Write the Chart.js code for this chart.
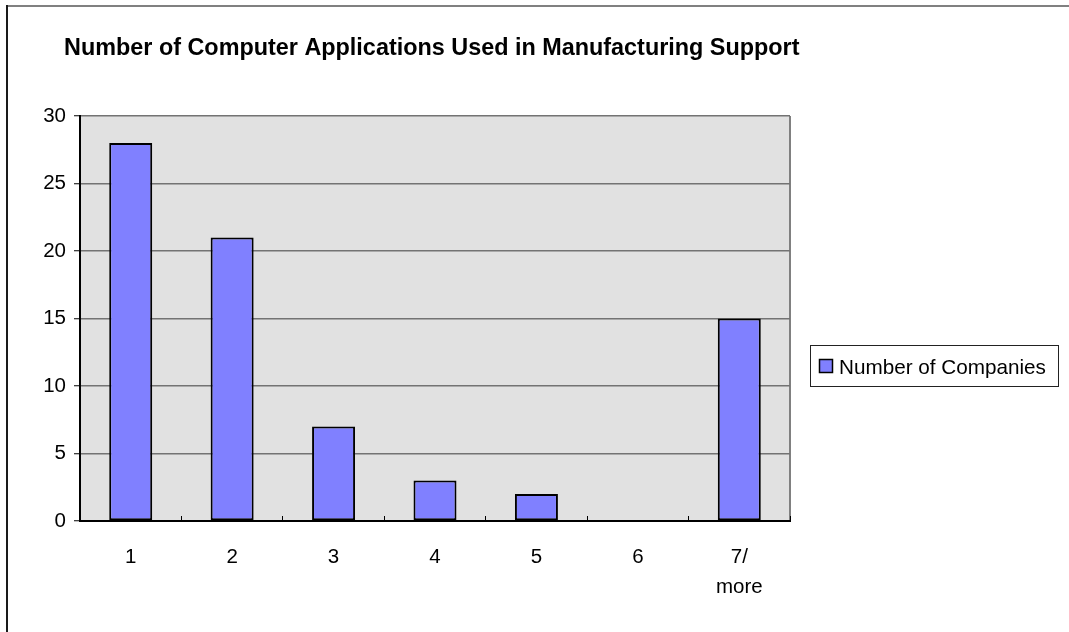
<!DOCTYPE html>
<html>
<head>
<meta charset="utf-8">
<script src="https://cdn.jsdelivr.net/npm/chart.js@4/dist/chart.umd.min.js"></script>
<style>
  html, body { margin: 0; padding: 0; background: #fff; }
  #wrap { position: relative; width: 1069px; height: 632px; }
  canvas { display: block; }
</style>
</head>
<body>
<div id="wrap"><canvas id="chart" width="1069" height="632"></canvas></div>
<script>
const chartTitle = 'Number of Computer Applications Used in Manufacturing Support';
const categories = ['1', '2', '3', '4', '5', '6', ['7/', 'more']];
const seriesLabel = 'Number of Companies';
const companyCounts = [28, 21, 7, 3, 2, 0, 15];

const FONT = "'Liberation Sans', Arial, sans-serif";
const BAR_FILL = '#8080ff';
const PLOT_FILL = '#e1e1e1';

// Frame, plot background, title and legend box
const decorations = {
  id: 'decorations',
  beforeDraw(chart) {
    const { ctx, chartArea: a } = chart;
    ctx.save();
    // outer frame (top and left edges)
    ctx.lineWidth = 2;
    ctx.strokeStyle = '#808080';
    ctx.beginPath(); ctx.moveTo(6, 6); ctx.lineTo(1069, 6); ctx.stroke();
    ctx.strokeStyle = '#1a1a1a';
    ctx.beginPath(); ctx.moveTo(7, 5); ctx.lineTo(7, 632); ctx.stroke();
    // plot background
    ctx.fillStyle = PLOT_FILL;
    ctx.fillRect(a.left, a.top, a.right - a.left, a.bottom - a.top);
    ctx.strokeStyle = '#808080';
    ctx.lineWidth = 2;
    ctx.beginPath(); ctx.moveTo(a.right, a.top); ctx.lineTo(a.right, a.bottom); ctx.stroke();
    ctx.restore();
  },
  afterDraw(chart) {
    const { ctx } = chart;
    ctx.save();
    // title
    ctx.fillStyle = '#000';
    ctx.font = 'bold 23.4px ' + FONT;
    ctx.textAlign = 'left';
    ctx.textBaseline = 'alphabetic';
    ctx.fillText(chartTitle, 64, 54.5);
    // legend
    const ds = chart.data.datasets[0];
    ctx.lineWidth = 1;
    ctx.strokeStyle = '#222';
    ctx.fillStyle = '#fff';
    ctx.fillRect(810.5, 345.5, 248, 41);
    ctx.strokeRect(810.5, 345.5, 248, 41);
    ctx.fillStyle = ds.backgroundColor;
    ctx.fillRect(819, 359, 14, 14);
    ctx.lineWidth = 1.5;
    ctx.strokeStyle = '#000';
    ctx.strokeRect(819.5, 359.5, 13, 13);
    ctx.fillStyle = '#000';
    ctx.font = '20.7px ' + FONT;
    ctx.fillText(ds.label, 839, 374);
    ctx.restore();
  }
};

new Chart(document.getElementById('chart'), {
  type: 'bar',
  data: {
    labels: categories,
    datasets: [{
      label: seriesLabel,
      data: companyCounts,
      backgroundColor: BAR_FILL,
      borderColor: '#000',
      borderWidth: 2,
      borderSkipped: false,
      barPercentage: 0.424,
      categoryPercentage: 1
    }]
  },
  options: {
    responsive: false,
    animation: false,
    devicePixelRatio: 1,
    layout: { padding: { left: 0, top: 116, right: 279, bottom: 0 } },
    plugins: {
      legend: { display: false },
      title: { display: false },
      tooltip: { enabled: false }
    },
    scales: {
      x: {
        offset: true,
        afterFit(scale) { scale.height = 111; },
        grid: {
          offset: true,
          drawOnChartArea: false,
          drawTicks: true,
          tickLength: -5,
          tickColor: '#000',
          tickWidth: 1
        },
        border: { display: true, color: '#000', width: 2 },
        ticks: {
          color: '#000',
          padding: 26,
          maxRotation: 0,
          autoSkip: false,
          font: { family: FONT, size: 20.5, lineHeight: 1.46 }
        }
      },
      y: {
        min: 0,
        max: 30,
        afterFit(scale) { scale.width = 80; },
        grid: {
          color: '#737373',
          lineWidth: 1.5,
          drawTicks: true,
          tickLength: 6,
          tickColor: '#000',
          tickWidth: 1
        },
        border: { display: true, color: '#000', width: 2 },
        ticks: {
          stepSize: 5,
          color: '#000',
          padding: 8,
          font: { family: FONT, size: 20.5 }
        }
      }
    }
  },
  plugins: [decorations]
});
</script>
</body>
</html>
